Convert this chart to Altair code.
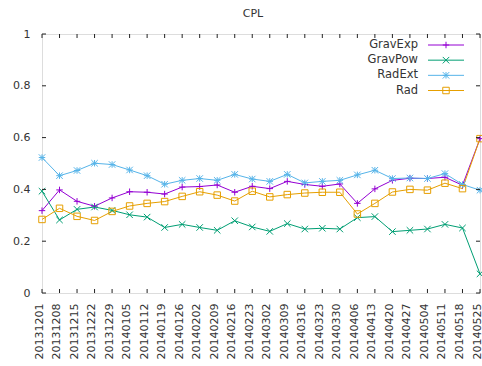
import altair as alt
import pandas as pd

# weekly snapshots
dates = ["20131201", "20131208", "20131215", "20131222", "20131229", "20140105",
         "20140112", "20140119", "20140126", "20140202", "20140209", "20140216",
         "20140223", "20140302", "20140309", "20140316", "20140323", "20140330",
         "20140406", "20140413", "20140420", "20140427", "20140504", "20140511",
         "20140518", "20140525"]

series_names = ["GravExp", "GravPow", "RadExt", "Rad"]
series_colors = ["#9400d3", "#009e73", "#56b4e9", "#e69f00"]

grav_exp = [0.318, 0.398, 0.354, 0.335, 0.367, 0.391, 0.389, 0.382, 0.409, 0.411,
            0.417, 0.389, 0.412, 0.403, 0.431, 0.419, 0.412, 0.421, 0.346, 0.402,
            0.435, 0.443, 0.442, 0.447, 0.416, 0.596]
grav_pow = [0.393, 0.282, 0.323, 0.332, 0.319, 0.302, 0.293, 0.253, 0.265, 0.253,
            0.242, 0.279, 0.255, 0.238, 0.268, 0.247, 0.250, 0.247, 0.291, 0.295,
            0.237, 0.242, 0.247, 0.265, 0.251, 0.074]
rad_ext = [0.523, 0.453, 0.473, 0.501, 0.496, 0.475, 0.453, 0.420, 0.435, 0.442,
           0.435, 0.458, 0.440, 0.431, 0.458, 0.425, 0.431, 0.435, 0.456, 0.474,
           0.442, 0.444, 0.442, 0.461, 0.419, 0.397]
rad = [0.284, 0.327, 0.296, 0.280, 0.315, 0.336, 0.346, 0.353, 0.373, 0.391,
       0.378, 0.355, 0.393, 0.371, 0.380, 0.386, 0.389, 0.389, 0.305, 0.346,
       0.390, 0.400, 0.397, 0.424, 0.403, 0.596]

y_ticks = [0, 0.2, 0.4, 0.6, 0.8, 1]
chart_title = "CPL"

# gnuplot-like point types: plus, cross, asterisk, open square
marker_paths = [
    "M-1,0L1,0M0,-1L0,1",
    "M-1,-1L1,1M-1,1L1,-1",
    "M-1,0L1,0M0,-1L0,1M-1,-1L1,1M-1,1L1,-1",
    "M-1,-1L1,-1L1,1L-1,1Z",
]

W, H = 438, 259
FONT = "DejaVu Sans"
TICK = 4

rows = []
for name, vals in zip(series_names, [grav_exp, grav_pow, rad_ext, rad]):
    for d, v in zip(dates, vals):
        rows.append({"date": d, "series": name, "value": v})
df = pd.DataFrame(rows)

x_scale = alt.Scale(domain=dates, type="point", padding=0)
y_dom = alt.Scale(domain=[0, 1], nice=False, zero=False)
color_enc = alt.Color("series:N", scale=alt.Scale(domain=series_names, range=series_colors), legend=None)
shape_enc = alt.Shape("series:N", scale=alt.Scale(domain=series_names, range=marker_paths), legend=None)

lines = alt.Chart(df).mark_line(strokeWidth=1).encode(
    x=alt.X("date:O", scale=x_scale, sort=dates,
            axis=alt.Axis(title=None, labelAngle=270, labelPadding=10, labelOffset=-3,
                          ticks=False, tickSize=0, domain=False, labelFont=FONT,
                          labelFontSize=11, labelColor="#333", labelOverlap=False)),
    y=alt.Y("value:Q", scale=y_dom,
            axis=alt.Axis(title=None, values=y_ticks, format="~g", ticks=False, tickSize=0,
                          domain=False, grid=False, labelPadding=12, labelFont=FONT,
                          labelFontSize=11, labelColor="#333")),
    color=color_enc,
    detail="series:N",
)

points = alt.Chart(df).mark_point(filled=False, strokeWidth=1, size=42, opacity=1).encode(
    x=alt.X("date:O", scale=x_scale, sort=dates),
    y=alt.Y("value:Q", scale=y_dom, axis=None),
    color=color_enc,
    shape=shape_enc,
)

# inward tick marks on all four sides
xt = pd.DataFrame({"date": dates})
yt = pd.DataFrame({"v": y_ticks})
tick_style = dict(color="#222", strokeWidth=1)
x_bottom = alt.Chart(xt).mark_rule(**tick_style).encode(
    x=alt.X("date:O", scale=x_scale, sort=dates), y=alt.value(H), y2=alt.value(H - TICK))
x_top = alt.Chart(xt).mark_rule(**tick_style).encode(
    x=alt.X("date:O", scale=x_scale, sort=dates), y=alt.value(0), y2=alt.value(TICK))
y_left = alt.Chart(yt).mark_rule(**tick_style).encode(
    y=alt.Y("v:Q", scale=y_dom, axis=None), x=alt.value(0), x2=alt.value(TICK))
y_right = alt.Chart(yt).mark_rule(**tick_style).encode(
    y=alt.Y("v:Q", scale=y_dom, axis=None), x=alt.value(W - TICK), x2=alt.value(W))

# key in the upper right: name, then line sample with its marker
key_df = pd.DataFrame({"series": series_names})
key_y = alt.Y("series:N", sort=series_names,
              scale=alt.Scale(domain=series_names, range=[11, 56.5], type="point", padding=0),
              axis=None)
key_text = alt.Chart(key_df).mark_text(align="right", baseline="middle", font=FONT,
                                       fontSize=11.5, color="#333").encode(
    x=alt.value(376), y=key_y, text="series:N")
key_line = alt.Chart(key_df).mark_rule(strokeWidth=1).encode(
    x=alt.value(386), x2=alt.value(422), y=key_y, color=color_enc)
key_point = alt.Chart(key_df).mark_point(filled=False, strokeWidth=1, size=42, opacity=1).encode(
    x=alt.value(404), y=key_y, color=color_enc, shape=shape_enc)

# title drawn above the frame
title_mark = alt.Chart(pd.DataFrame({"t": [chart_title]})).mark_text(
    align="center", baseline="alphabetic", font=FONT, fontSize=11, color="#333"
).encode(x=alt.value(211), y=alt.value(-17), text="t:N")

chart = alt.layer(
    lines, points, x_bottom, x_top, y_left, y_right, key_text, key_line, key_point, title_mark
).resolve_scale(y="independent").properties(
    width=W, height=H,
    autosize=alt.AutoSizeParams(type="none"),
    padding={"left": 42, "top": 34, "right": 2, "bottom": 73},
).configure_view(stroke="#222", strokeWidth=1).configure(background="white")

chart.save("out.html", embed_options={"renderer": "svg", "actions": False})
